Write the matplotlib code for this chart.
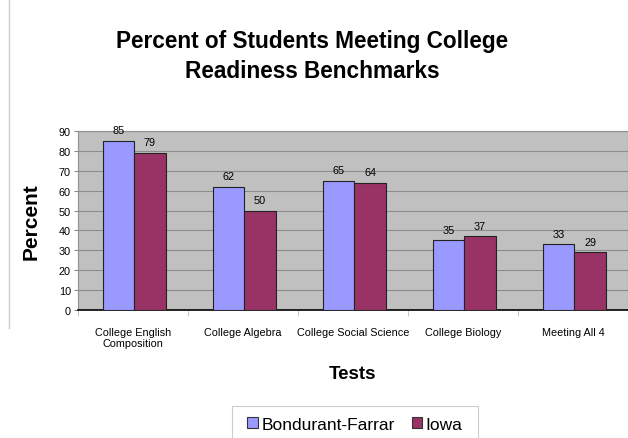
import numpy as np
import matplotlib
matplotlib.use("Agg")
import matplotlib.pyplot as plt
import matplotlib.patches as mpatches

plt.rcParams['font.family'] = ['Liberation Sans', 'DejaVu Sans']

tests = ["College English\nComposition", "College Algebra", "College Social Science",
         "College Biology", "Meeting All 4"]
bondurant = [85, 62, 65, 35, 33]
iowa = [79, 50, 64, 37, 29]
series_names = ["Bondurant-Farrar", "Iowa"]
colors = ["#9999FF", "#993366"]

fig = plt.figure(figsize=(6.28, 4.39), dpi=100)
ax = fig.add_axes([0.124, 0.2916, 0.876, 0.4077])
ax.set_facecolor("#C0C0C0")

x = np.arange(len(tests))
w = 0.287
b1 = ax.bar(x - 0.275, bondurant, w, align='edge', color=colors[0], edgecolor="#222222", linewidth=0.8, zorder=3)
b2 = ax.bar(x + 0.012, iowa, w, align='edge', color=colors[1], edgecolor="#222222", linewidth=0.8, zorder=3)
for bars in (b1, b2):
    for r in bars:
        ax.annotate(str(int(r.get_height())), (r.get_x() + r.get_width() / 2, r.get_height()),
                    xytext=(0, 4), textcoords="offset points", ha='center', va='bottom', fontsize=7.8)

ax.set_xlim(-0.5, 4.5)
ax.set_ylim(0, 90)
ax.set_yticks(range(0, 91, 10))
ax.yaxis.grid(True, color="#8C8C8C", linewidth=0.8, zorder=0)
ax.set_axisbelow(True)
ax.set_xticks(x)
ax.set_xticklabels(tests, fontsize=7.8)
ax.set_xticks(np.arange(-0.5, 4.6, 1), minor=True)
ax.tick_params(axis='x', which='major', length=0, pad=12)
ax.tick_params(axis='x', which='minor', length=4, color="#BBBBBB")
ax.tick_params(axis='y', labelsize=7.8, length=3, color="#888888", pad=2)
for s in ("top", "right"):
    ax.spines[s].set_color("#909090")
ax.spines["left"].set_color("#909090")
ax.spines["bottom"].set_color("black")
ax.spines["bottom"].set_linewidth(1.2)

ax.set_ylabel("Percent", fontsize=15, fontweight='bold', labelpad=13)
ax.set_xlabel("Tests", fontsize=13.5, fontweight='bold', labelpad=12)

fig.text(0.497, 0.871, "Percent of Students Meeting College\nReadiness Benchmarks",
         ha='center', va='center', fontsize=16.3, fontweight='bold', linespacing=1.35)

# left border line
fig.add_artist(plt.Line2D([0.015, 0.015], [0.25, 1.0], color="#CCCCCC", linewidth=1))

# legend box (runs off the bottom edge)
fig.add_artist(mpatches.Rectangle((232 / 628, -0.05), (478 - 232) / 628, 0.05 + 1 - 407 / 439,
                                  transform=fig.transFigure, facecolor="white",
                                  edgecolor="#CCCCCC", linewidth=0.8))

handles = [mpatches.Patch(facecolor=c, edgecolor="#333333", linewidth=0.8, label=n)
           for c, n in zip(colors, series_names)]
leg = fig.legend(handles=handles, loc='upper center', bbox_to_anchor=(355 / 628, 1 - 404 / 439),
                 ncol=2, fontsize=12.5, frameon=False, handlelength=0.6,
                 handleheight=0.6, handletextpad=0.2, columnspacing=1.0, borderpad=0.3)

fig.savefig("out.png", dpi=100)
